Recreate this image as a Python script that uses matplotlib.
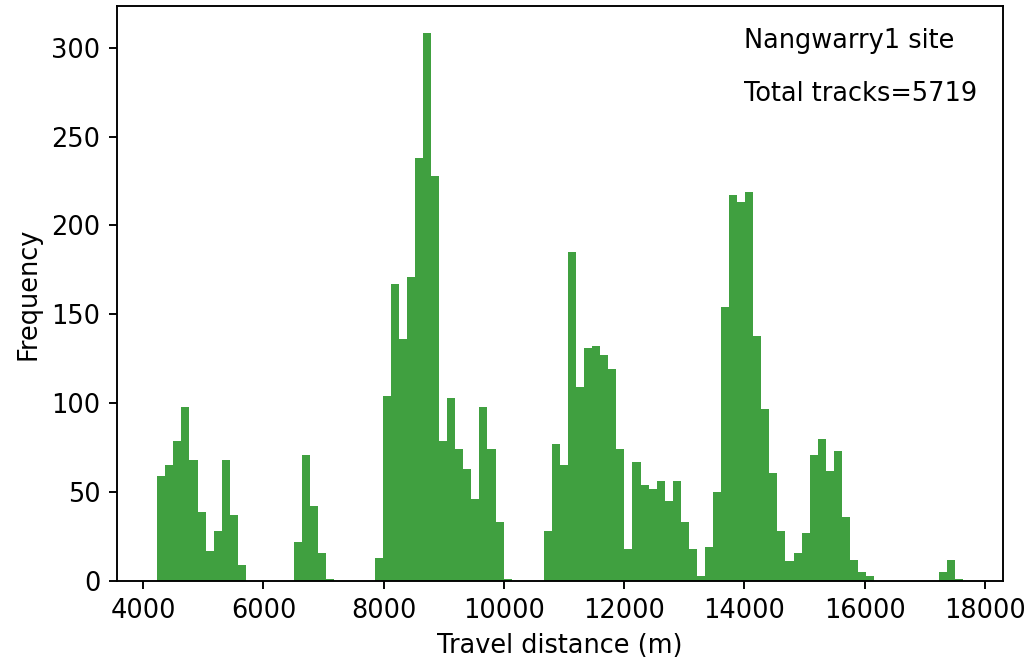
import matplotlib
matplotlib.use("Agg")
import matplotlib.pyplot as plt
import numpy as np

#Histogram of travel distance, 100 bins between min and max distance
d_min=4233 #m
d_max=17632 #m
n_bins=100

counts=[59,65,79,98,68,39,17,28,68,37,9,
        0,0,0,0,0,0,
        22,71,42,16,1,
        0,0,0,0,0,
        13,104,167,136,171,238,308,228,79,103,74,63,46,98,74,33,1,
        0,0,0,0,
        28,77,65,185,109,131,132,127,119,74,18,
        67,54,52,56,45,56,33,18,3,19,50,154,217,213,219,138,97,
        61,28,11,16,27,71,80,62,73,36,12,5,3,
        0,0,0,0,0,0,0,0,
        5,12,1]

site_name="Nangwarry1 site"
total_tracks=5719

edges=np.linspace(d_min,d_max,n_bins+1)

plt.rcParams["font.size"]=10.8

#Define figure
fig=plt.figure(figsize=(1027/171,666/171),dpi=171)
ax=fig.add_subplot(111)
fig.subplots_adjust(left=0.1139,right=0.9766,bottom=0.1276,top=0.991)

ax.hist(edges[:-1],bins=edges,weights=counts,facecolor="g",alpha=0.75)

ax.text(14000,300,site_name)
ax.text(14000,270,f"Total tracks={total_tracks}")

ax.set_xlabel("Travel distance (m)")
ax.set_ylabel("Frequency")

fig.savefig("out.png",dpi=171)
